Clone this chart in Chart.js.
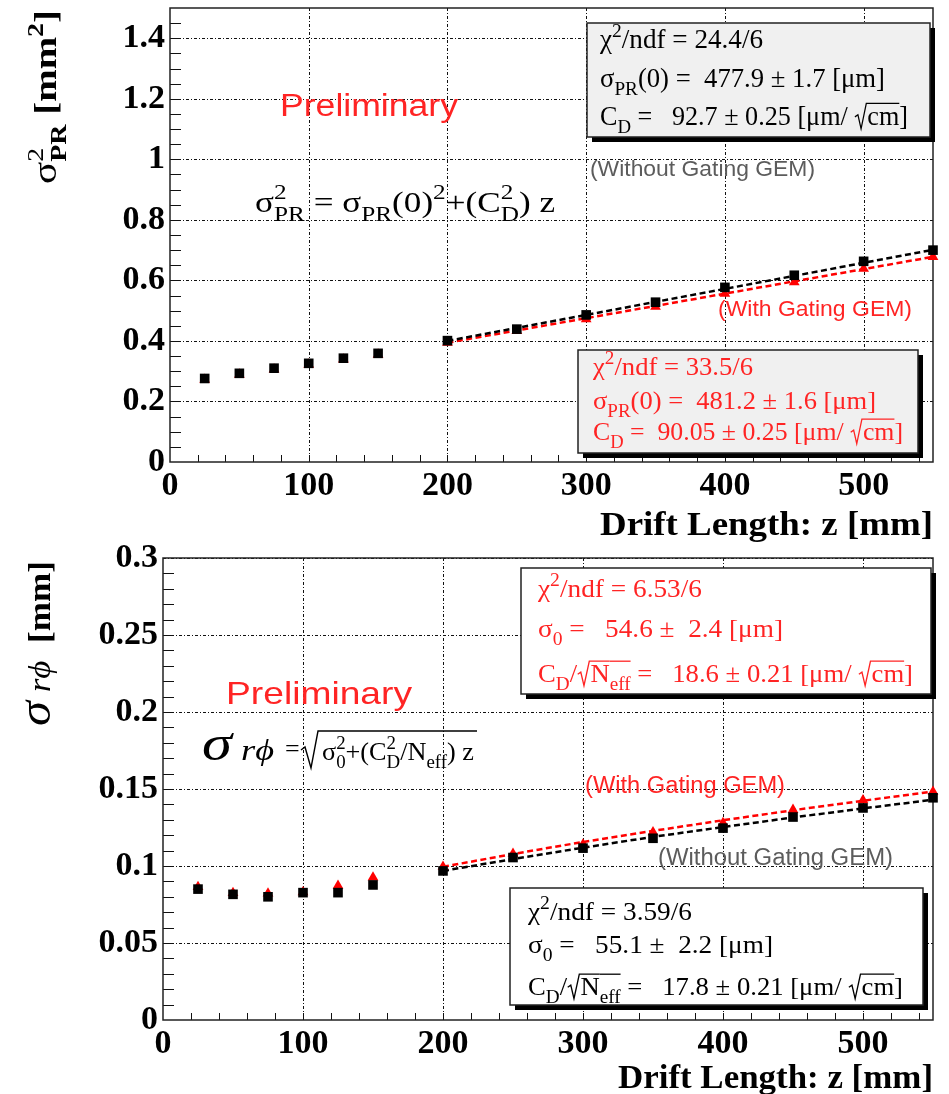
<!DOCTYPE html>
<html>
<head>
<meta charset="utf-8">
<script src="https://cdn.jsdelivr.net/npm/chart.js@4.4.1/dist/chart.umd.min.js"></script>
<style>
  html, body { margin: 0; padding: 0; background: #fff; }
  canvas { position: absolute; left: 0; }
  #top { top: 0; }
  #bot { top: 545px; }
</style>
</head>
<body>
<canvas id="top" width="949" height="545"></canvas>
<canvas id="bot" width="949" height="549"></canvas>
<script>
const SERIF = '"Liberation Serif", "Times New Roman", serif';
const SANS = '"Liberation Sans", Arial, sans-serif';
const RED = '#ff0000';
const TXTRED = '#ff2424';
const GREY = '#5c5c5c';

// drift length of the measured points [mm]
const driftZ = [25, 50, 75, 100, 125, 150, 200, 250, 300, 350, 400, 450, 500, 550];
const zTicks = [0, 100, 200, 300, 400, 500];

// top panel : sigma_PR^2 [mm^2]
const pr2NoGate = [0.276, 0.293, 0.310, 0.326, 0.343, 0.359, 0.401, 0.439, 0.486, 0.528, 0.577, 0.617, 0.663, 0.700];
const pr2Gate   = [0.272, 0.289, 0.306, 0.322, 0.339, 0.355, 0.394, 0.433, 0.472, 0.513, 0.556, 0.594, 0.639, 0.678];
const prFitZ = [200, 550];
const prFitNoGate = [0.400, 0.701];
const prFitGate = [0.394, 0.678];
const prTicks = [0, 0.2, 0.4, 0.6, 0.8, 1, 1.2, 1.4];

// bottom panel : sigma_rphi [mm]
const rphiNoGate = [0.0850, 0.0816, 0.0800, 0.0827, 0.0827, 0.0877, 0.0968, 0.1055, 0.1116, 0.1180, 0.1246, 0.1318, 0.1377, 0.1443];
const rphiGate   = [0.0864, 0.0825, 0.0822, 0.0830, 0.0872, 0.0926, 0.0995, 0.1080, 0.1140, 0.1220, 0.1280, 0.1365, 0.1428, 0.1482];
const rphiFitZ = [200, 250, 300, 350, 400, 450, 500, 550];
const rphiFitNoGate = [0.0968, 0.1045, 0.1119, 0.1189, 0.1253, 0.1315, 0.1374, 0.1430];
const rphiFitGate   = [0.0995, 0.1078, 0.1156, 0.1228, 0.1297, 0.1362, 0.1424, 0.1484];
const rphiTicks = [0, 0.05, 0.1, 0.15, 0.2, 0.25, 0.3];

const pts = (xs, ys) => xs.map((v, i) => ({ x: v, y: ys[i] }));

// text with sub/superscripts. part = [text, mode, size, dy]
// mode: u sup, d sub, k keep x (stack next part), i italic, b bold, r radical, o overline
function rich(ctx, parts, x, y, o) {
  const size = o.size;
  let cx = 0, stack = null;
  const items = [];
  for (const p of parts) {
    const t = p[0], m = p[1] || '';
    const small = m.includes('u') || m.includes('d');
    const s = p[2] || (small ? size * 0.72 : size);
    const font = (m.includes('i') ? 'italic ' : '') + ((o.bold || m.includes('b')) ? 'bold ' : '') + s + 'px ' + (o.family || SERIF);
    ctx.font = font;
    const rad = m.includes('r') ? size * 0.5 : 0;
    const w = ctx.measureText(t).width + rad;
    const dy = (p[3] || 0) + (m.includes('u') ? -size * 0.42 : m.includes('d') ? size * 0.3 : 0);
    const px = stack ? stack.x : cx;
    items.push({ t, font, x: px, dy, w, rad, over: m.includes('o') || rad > 0 });
    if (m.includes('k')) { stack = { x: px, w }; cx = px + w; }
    else if (stack) { cx = Math.max(stack.x + stack.w, px + w); stack = null; }
    else cx = px + w;
  }
  const total = cx;
  const sc = o.width ? o.width / total : 1;
  ctx.save();
  ctx.translate(x, y);
  if (o.rotate) ctx.rotate(o.rotate);
  if (o.align === 'right') ctx.translate(-total * sc, 0);
  ctx.scale(sc, 1);
  ctx.fillStyle = o.color || '#000';
  ctx.strokeStyle = o.color || '#000';
  ctx.textBaseline = 'alphabetic';
  ctx.textAlign = 'left';
  ctx.lineWidth = 1.3;
  const top = -size * 0.8;
  for (const it of items) {
    ctx.font = it.font;
    ctx.fillText(it.t, it.x + it.rad, it.dy);
    if (it.over) {
      ctx.beginPath();
      if (it.rad) {
        const r = it.rad;
        ctx.moveTo(it.x + r * 0.05, -size * 0.30);
        ctx.lineTo(it.x + r * 0.28, -size * 0.38);
        ctx.lineTo(it.x + r * 0.52, size * 0.14);
        ctx.lineTo(it.x + r * 0.92, top);
        ctx.lineTo(it.x + it.w, top);
      } else {
        ctx.moveTo(it.x, top);
        ctx.lineTo(it.x + it.w, top);
      }
      ctx.stroke();
    }
  }
  ctx.restore();
}

function box(ctx, x, y, w, h, fill) {
  ctx.save();
  ctx.fillStyle = '#000';
  ctx.fillRect(x + 5, y + 5, w, h);
  ctx.fillStyle = fill;
  ctx.fillRect(x, y, w, h);
  ctx.strokeStyle = '#222';
  ctx.lineWidth = 1.5;
  ctx.strokeRect(x, y, w, h);
  ctx.restore();
}

// grid, inner ticks and frame, plus the text of each panel
function framePlugin(yMinor, yMax, annotate) {
  return {
    id: 'frame',
    beforeDatasetsDraw(chart) {
      const { ctx, chartArea: a, scales: { x, y } } = chart;
      ctx.save();
      ctx.strokeStyle = '#111';
      ctx.lineWidth = 1;
      ctx.setLineDash([3, 2, 1, 2]);
      x.ticks.forEach(t => {
        if (t.value <= 0) return;
        const px = Math.round(x.getPixelForValue(t.value)) + 0.5;
        ctx.beginPath(); ctx.moveTo(px, a.top); ctx.lineTo(px, a.bottom); ctx.stroke();
      });
      y.ticks.forEach(t => {
        if (t.value <= 0) return;
        const py = Math.round(y.getPixelForValue(t.value)) + 0.5;
        ctx.beginPath(); ctx.moveTo(a.left, py); ctx.lineTo(a.right, py); ctx.stroke();
      });
      ctx.setLineDash([]);
      ctx.strokeStyle = '#111';
      for (let v = 20; v < 550; v += 20) {
        const px = Math.round(x.getPixelForValue(v)) + 0.5;
        ctx.beginPath(); ctx.moveTo(px, a.bottom); ctx.lineTo(px, a.bottom - 7); ctx.stroke();
      }
      for (let k = 1; k * yMinor < yMax - 1e-9; k++) {
        const py = Math.round(y.getPixelForValue(k * yMinor)) + 0.5;
        ctx.beginPath(); ctx.moveTo(a.left, py); ctx.lineTo(a.left + 11, py); ctx.stroke();
      }
      ctx.strokeStyle = '#222';
      ctx.lineWidth = 1.5;
      ctx.strokeRect(a.left, a.top, a.right - a.left, a.bottom - a.top);
      ctx.restore();
    },
    afterDraw(chart) { annotate(chart.ctx); }
  };
}

const noPad = s => { s.paddingTop = 0; s.paddingBottom = 0; s.paddingLeft = 0; s.paddingRight = 0; };

function panel(id, c) {
  const tickFont = { family: SERIF, weight: 'bold', size: 34 };
  return new Chart(document.getElementById(id), {
    type: 'scatter',
    data: {
      datasets: [
        { data: pts(driftZ, c.black), pointStyle: 'rect', pointRadius: 6.8, backgroundColor: '#000', borderWidth: 0, clip: false },
        { data: pts(driftZ, c.red), pointStyle: 'triangle', pointRadius: 6.2, backgroundColor: RED, borderWidth: 0, clip: false },
        { data: pts(c.fitZ, c.fitBlack), showLine: true, pointRadius: 0, borderColor: '#000', borderWidth: 2.5, borderDash: [6, 3.5] },
        { data: pts(c.fitZ, c.fitRed), showLine: true, pointRadius: 0, borderColor: RED, borderWidth: 2.5, borderDash: [6, 3.5] }
      ]
    },
    options: {
      responsive: false,
      animation: false,
      events: [],
      layout: { padding: { top: c.top, right: 16, left: 0, bottom: 0 } },
      plugins: { legend: { display: false }, tooltip: { enabled: false } },
      scales: {
        x: {
          type: 'linear', min: 0, max: 550,
          afterBuildTicks: s => { s.ticks = zTicks.map(v => ({ value: v })); },
          afterFit: s => { s.height = c.xHeight; noPad(s); },
          ticks: { autoSkip: false, maxRotation: 0, color: '#000', font: tickFont, padding: 4 },
          grid: { display: false, drawTicks: false },
          border: { display: false }
        },
        y: {
          type: 'linear', min: 0, max: c.yMax,
          afterBuildTicks: s => { s.ticks = c.yTicks.map(v => ({ value: v })); },
          afterFit: s => { s.width = c.yWidth; noPad(s); },
          ticks: { autoSkip: false, color: '#000', font: tickFont, padding: 5, callback: v => String(+v.toFixed(3)) },
          grid: { display: false, drawTicks: false },
          border: { display: false }
        }
      }
    },
    plugins: [framePlugin(c.yMinor, c.yMax, c.annotate)]
  });
}

panel('top', {
  black: pr2NoGate, red: pr2Gate, fitZ: prFitZ, fitBlack: prFitNoGate, fitRed: prFitGate,
  yMax: 1.5, yTicks: prTicks, yMinor: 0.05, yWidth: 170, xHeight: 83, top: 8,
  annotate(ctx) {
    rich(ctx, [['Drift Length: z [mm]']], 933, 535, { size: 34, bold: true, align: 'right', width: 333 });
    rich(ctx, [['σ', '', 34], ['2', 'uk'], ['PR', 'db'], [' [mm', 'b'], ['2', 'ub'], [']', 'b']],
      56, 10, { size: 32, rotate: -Math.PI / 2, align: 'right', width: 174 });
    rich(ctx, [['Preliminary']], 280, 116, { family: SANS, size: 31, color: TXTRED, width: 178 });
    rich(ctx, [['σ'], ['2', 'uk'], ['PR', 'd'], [' = σ'], ['PR', 'd'], ['(0)'], ['2', 'u'], ['+(C'], ['2', 'uk'], ['D', 'd'], [') z']],
      255, 212, { size: 30, width: 300 });
    rich(ctx, [['(Without Gating GEM)']], 590, 176, { family: SANS, size: 22, color: GREY, width: 225 });
    rich(ctx, [['(With Gating GEM)']], 718, 316, { family: SANS, size: 22, color: TXTRED, width: 194 });

    box(ctx, 587, 23, 343, 114, '#f0f0f0');
    const k = { size: 27, color: '#000' };
    rich(ctx, [['χ'], ['2', 'u'], ['/ndf = 24.4/6']], 600, 48, { ...k, width: 163 });
    rich(ctx, [['σ'], ['PR', 'd'], ['(0) =  477.9 ± 1.7 [μm]']], 600, 87, { ...k, width: 285 });
    rich(ctx, [['C'], ['D', 'd'], [' =   92.7 ± 0.25 [μm/ '], ['cm', 'r'], [']']], 600, 125, { ...k, width: 308 });

    box(ctx, 578, 350, 340, 103, '#f0f0f0');
    const r = { size: 26, color: TXTRED };
    rich(ctx, [['χ'], ['2', 'u'], ['/ndf = 33.5/6']], 593, 375, { ...r, width: 160 });
    rich(ctx, [['σ'], ['PR', 'd'], ['(0) =  481.2 ± 1.6 [μm]']], 593, 409, { ...r, width: 283 });
    rich(ctx, [['C'], ['D', 'd'], [' =  90.05 ± 0.25 [μm/ '], ['cm', 'r'], [']']], 593, 440, { ...r, width: 310 });
  }
});

panel('bot', {
  black: rphiNoGate, red: rphiGate, fitZ: rphiFitZ, fitBlack: rphiFitNoGate, fitRed: rphiFitGate,
  yMax: 0.3, yTicks: rphiTicks, yMinor: 0.01, yWidth: 163, xHeight: 74, top: 13,
  annotate(ctx) {
    rich(ctx, [['Drift Length: z [mm]']], 933, 543, { size: 33, bold: true, align: 'right', width: 315 });
    rich(ctx, [['σ', 'i', 46], [' r', 'i', 32], ['ϕ', 'i', 32], ['  [mm]', 'b', 32]],
      50, 16, { size: 32, rotate: -Math.PI / 2, align: 'right', width: 165 });
    rich(ctx, [['Preliminary']], 226, 159, { family: SANS, size: 32, color: TXTRED, width: 186 });

    // sigma_rphi = sqrt(sigma0^2 + (CD^2/Neff) z)
    rich(ctx, [['σ', 'i', 50], [' r', 'i', 30], ['ϕ', 'i', 30]], 202, 215, { size: 30, width: 72 });
    rich(ctx, [['=']], 285, 212, { size: 26 });
    ctx.save();
    ctx.strokeStyle = '#000';
    ctx.lineWidth = 1.4;
    ctx.beginPath();
    ctx.moveTo(301, 205); ctx.lineTo(305, 202); ctx.lineTo(311, 223); ctx.lineTo(318, 186); ctx.lineTo(477, 186);
    ctx.stroke();
    ctx.restore();
    rich(ctx, [['σ'], ['2', 'uk'], ['0', 'd'], ['+(C'], ['2', 'uk'], ['D', 'd'], ['/N'], ['eff', 'd'], [') z']],
      322, 215, { size: 26, width: 152 });

    rich(ctx, [['(With Gating GEM)']], 585, 248, { family: SANS, size: 23, color: TXTRED, width: 200 });
    rich(ctx, [['(Without Gating GEM)']], 658, 320, { family: SANS, size: 23, color: GREY, width: 235 });

    box(ctx, 521, 23, 410, 126, '#fff');
    const r = { size: 26, color: TXTRED };
    rich(ctx, [['χ'], ['2', 'u'], ['/ndf = 6.53/6']], 538, 52, { ...r, width: 164 });
    rich(ctx, [['σ'], ['0', 'd'], [' =   54.6 ±  2.4 [μm]']], 538, 92, { ...r, width: 245 });
    rich(ctx, [['C'], ['D', 'd'], ['/'], ['N', 'r'], ['eff', 'do'], [' =   18.6 ± 0.21 [μm/ '], ['cm', 'r'], [']']], 538, 137, { ...r, width: 375 });

    box(ctx, 510, 343, 413, 117, '#fff');
    const k = { size: 26, color: '#000' };
    rich(ctx, [['χ'], ['2', 'u'], ['/ndf = 3.59/6']], 528, 375, { ...k, width: 164 });
    rich(ctx, [['σ'], ['0', 'd'], [' =   55.1 ±  2.2 [μm]']], 528, 408, { ...k, width: 245 });
    rich(ctx, [['C'], ['D', 'd'], ['/'], ['N', 'r'], ['eff', 'do'], [' =   17.8 ± 0.21 [μm/ '], ['cm', 'r'], [']']], 528, 450, { ...k, width: 375 });
  }
});
</script>
</body>
</html>
